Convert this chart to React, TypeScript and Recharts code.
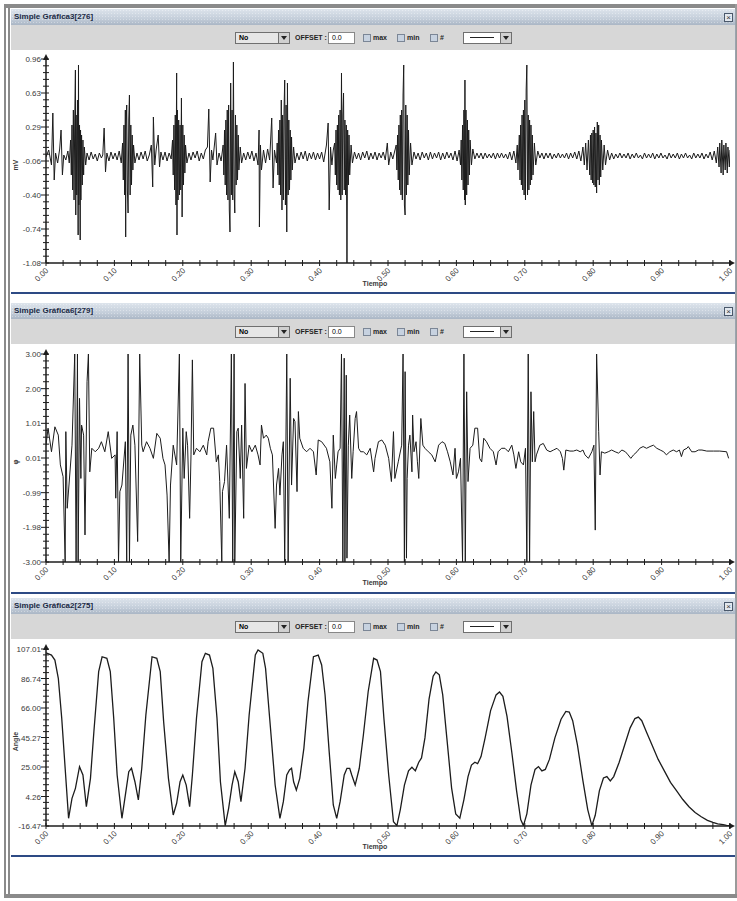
import React from "react";
import { LineChart, Line, XAxis, YAxis } from "recharts";

type Pt = [number, number];

// axis labels
const timeLabels = ["0.00", "0.10", "0.20", "0.30", "0.40", "0.50", "0.60", "0.70", "0.80", "0.90", "1.00"];
const mvLabels = ["-1.08", "-0.74", "-0.40", "-0.06", "0.29", "0.63", "0.96"];
const phiLabels = ["-3.00", "-1.98", "-0.99", "0.01", "1.01", "2.00", "3.00"];
const angleLabels = ["-16.47", "4.26", "25.00", "45.27", "66.00", "86.74", "107.01"];

const mvRange: Pt = [-1.08, 0.96];
const phiRange: Pt = [-3, 3];
const angleRange: Pt = [-16.47, 107.01];

// [tiempo, mV]
const emgSignal: Pt[] = [
  [0.000, -0.02], [0.004, 0.05], [0.008, -0.10], [0.010, 0.42], [0.012, -0.25], [0.014, 0.02], [0.017, -0.08], [0.020, 0.06],
  [0.022, 0.25], [0.024, -0.20], [0.026, 0.00], [0.029, -0.05], [0.032, 0.04], [0.034, -0.08],
  [0.036, 0.15], [0.037, -0.20], [0.038, 0.30], [0.039, -0.35], [0.040, 0.45], [0.041, -0.45], [0.042, 0.35], [0.043, 0.85],
  [0.0435, -0.60], [0.044, 0.40], [0.045, -0.40], [0.046, 0.55], [0.047, -0.80], [0.0475, 0.90], [0.048, -0.50], [0.049, 0.30],
  [0.050, -0.85], [0.0505, 0.25], [0.051, -0.45], [0.052, 0.20], [0.053, -0.30], [0.054, 0.15], [0.055, -0.20], [0.056, 0.08],
  [0.058, -0.10], [0.060, 0.02],
  [0.063, -0.05], [0.066, 0.03], [0.069, -0.04], [0.072, 0.01], [0.075, -0.06], [0.078, 0.02], [0.081, -0.03], [0.083, 0.00],
  [0.085, 0.27], [0.087, -0.17], [0.089, 0.02], [0.092, -0.06], [0.095, 0.03], [0.098, -0.04], [0.101, 0.02], [0.104, -0.05],
  [0.107, 0.04], [0.110, -0.08],
  [0.112, 0.12], [0.113, -0.25], [0.114, 0.30], [0.115, -0.40], [0.116, 0.45], [0.1165, -0.82], [0.117, 0.25], [0.118, 0.50],
  [0.119, -0.35], [0.120, -0.58], [0.121, 0.35], [0.122, 0.60], [0.123, -0.40], [0.124, 0.30], [0.125, -0.30], [0.126, 0.20],
  [0.127, -0.15], [0.128, 0.10], [0.130, -0.08], [0.133, 0.02],
  [0.136, -0.05], [0.139, 0.03], [0.142, -0.04], [0.145, 0.04], [0.148, -0.06], [0.151, 0.00], [0.154, 0.10], [0.156, -0.32],
  [0.157, 0.38], [0.159, -0.10], [0.161, 0.05], [0.164, 0.20], [0.166, -0.12], [0.168, 0.03], [0.171, -0.05], [0.174, 0.03],
  [0.177, -0.06], [0.180, 0.02], [0.183, -0.04],
  [0.185, 0.15], [0.186, -0.20], [0.187, 0.30], [0.188, -0.35], [0.189, 0.40], [0.190, -0.50], [0.191, 0.82], [0.1915, -0.80],
  [0.192, 0.45], [0.193, -0.45], [0.194, 0.35], [0.195, -0.40], [0.196, 0.30], [0.197, -0.35], [0.198, 0.57], [0.199, -0.62],
  [0.200, 0.30], [0.201, -0.30], [0.202, 0.20], [0.203, -0.18], [0.204, 0.10], [0.206, -0.08], [0.209, 0.02],
  [0.212, -0.05], [0.215, 0.03], [0.218, -0.03], [0.221, 0.04], [0.224, -0.06], [0.227, 0.02], [0.230, -0.04], [0.233, 0.05],
  [0.236, 0.08], [0.238, 0.46], [0.240, -0.27], [0.242, 0.05], [0.244, -0.05], [0.248, 0.22], [0.250, -0.10], [0.253, 0.02],
  [0.256, -0.06],
  [0.259, 0.10], [0.260, -0.20], [0.261, 0.25], [0.262, -0.30], [0.263, 0.35], [0.264, -0.40], [0.265, 0.45], [0.266, -0.45],
  [0.267, 0.50], [0.268, -0.55], [0.269, -0.77], [0.270, 0.72], [0.271, -0.40], [0.272, 0.45], [0.273, -0.45], [0.274, 0.93],
  [0.275, -0.35], [0.276, -0.58], [0.277, 0.40], [0.278, -0.30], [0.279, 0.30], [0.280, -0.25], [0.281, 0.20], [0.282, -0.15],
  [0.284, 0.08], [0.286, -0.08], [0.289, 0.02],
  [0.292, -0.05], [0.295, 0.03], [0.298, -0.04], [0.301, 0.04], [0.304, -0.06], [0.307, 0.02], [0.310, -0.10], [0.3115, 0.25],
  [0.312, -0.72], [0.3135, 0.10], [0.315, -0.15], [0.318, 0.05], [0.321, -0.08], [0.324, 0.06], [0.327, -0.05], [0.330, 0.37],
  [0.332, -0.33], [0.334, 0.05], [0.337, -0.08],
  [0.338, 0.12], [0.339, -0.20], [0.340, 0.25], [0.341, -0.30], [0.342, 0.35], [0.343, -0.40], [0.344, 0.55], [0.345, -0.55],
  [0.346, 0.40], [0.347, -0.45], [0.348, 0.45], [0.349, 0.75], [0.350, -0.50], [0.351, 0.50], [0.352, -0.77], [0.353, 0.72],
  [0.354, -0.40], [0.355, 0.35], [0.356, -0.35], [0.357, 0.25], [0.358, -0.25], [0.359, 0.18], [0.360, -0.15], [0.362, 0.08],
  [0.364, -0.08], [0.367, 0.02],
  [0.370, -0.05], [0.373, 0.03], [0.376, -0.04], [0.379, 0.04], [0.382, -0.06], [0.385, 0.02], [0.388, -0.04], [0.391, 0.03],
  [0.394, -0.05], [0.397, 0.02], [0.400, -0.04], [0.403, 0.03], [0.406, -0.07], [0.410, 0.10], [0.4125, 0.32], [0.414, -0.55],
  [0.416, 0.08], [0.418, -0.10], [0.420, 0.05],
  [0.422, 0.12], [0.423, -0.20], [0.424, 0.25], [0.425, -0.30], [0.426, 0.30], [0.427, -0.35], [0.428, 0.40], [0.429, -0.40],
  [0.430, 0.45], [0.431, -0.45], [0.432, 0.82], [0.433, -0.40], [0.434, 0.40], [0.435, 0.62], [0.436, -0.35], [0.437, 0.35],
  [0.438, -0.40], [0.439, 0.30], [0.440, -1.08], [0.441, 0.25], [0.442, -0.30], [0.443, 0.20], [0.444, -0.20], [0.446, 0.10],
  [0.448, -0.08], [0.451, 0.03],
  [0.454, -0.04], [0.457, 0.02], [0.460, -0.05], [0.463, 0.03], [0.466, -0.03], [0.469, 0.04], [0.472, -0.05], [0.475, 0.02],
  [0.478, -0.04], [0.481, 0.03], [0.484, -0.05], [0.487, 0.02], [0.490, -0.03], [0.493, 0.03], [0.496, -0.05], [0.499, 0.12],
  [0.501, -0.10], [0.504, 0.03], [0.507, -0.04],
  [0.512, 0.10], [0.513, -0.15], [0.514, 0.20], [0.515, -0.25], [0.516, 0.30], [0.517, -0.35], [0.518, 0.40], [0.519, -0.40],
  [0.520, 0.45], [0.521, -0.45], [0.522, 0.60], [0.523, 0.90], [0.524, -0.50], [0.525, -0.60], [0.526, 0.50], [0.527, -0.40],
  [0.528, 0.40], [0.529, -0.30], [0.530, 0.25], [0.531, -0.20], [0.533, 0.12], [0.535, -0.10], [0.538, 0.03],
  [0.541, -0.04], [0.544, 0.02], [0.547, -0.05], [0.550, 0.03], [0.553, -0.03], [0.556, 0.02], [0.559, -0.05], [0.562, 0.03],
  [0.565, -0.04], [0.568, 0.02], [0.571, -0.03], [0.574, 0.03], [0.577, -0.05], [0.580, 0.02], [0.583, -0.04], [0.586, 0.03],
  [0.589, -0.03], [0.592, 0.02], [0.595, -0.05], [0.598, 0.04], [0.601, -0.06], [0.604, 0.05],
  [0.606, -0.10], [0.607, 0.15], [0.608, -0.25], [0.609, 0.30], [0.610, -0.35], [0.611, 0.45], [0.612, -0.45], [0.6125, 0.75],
  [0.613, -0.50], [0.614, 0.45], [0.615, -0.40], [0.616, 0.35], [0.617, -0.30], [0.618, 0.25], [0.619, -0.20], [0.620, 0.15],
  [0.622, -0.10], [0.624, 0.06], [0.627, -0.04],
  [0.630, 0.02], [0.633, -0.03], [0.636, 0.02], [0.639, -0.04], [0.642, 0.02], [0.645, -0.03], [0.648, 0.01], [0.651, -0.03],
  [0.654, 0.02], [0.657, -0.04], [0.660, 0.02], [0.663, -0.03], [0.666, 0.02], [0.669, -0.03], [0.672, 0.01], [0.675, -0.04],
  [0.678, 0.03], [0.681, -0.05], [0.684, 0.04],
  [0.687, -0.08], [0.689, 0.10], [0.690, -0.15], [0.692, 0.20], [0.693, -0.25], [0.694, 0.30], [0.695, -0.30], [0.696, 0.40],
  [0.697, -0.35], [0.698, 0.45], [0.699, -0.40], [0.700, 0.55], [0.701, -0.45], [0.702, 0.65], [0.703, 0.90], [0.704, -0.40],
  [0.705, 0.40], [0.706, -0.35], [0.707, 0.35], [0.708, -0.30], [0.709, 0.30], [0.710, -0.25], [0.711, 0.20], [0.712, -0.20],
  [0.714, 0.12], [0.716, -0.10], [0.719, 0.04],
  [0.722, -0.03], [0.725, 0.02], [0.728, -0.04], [0.731, 0.02], [0.734, -0.03], [0.737, 0.02], [0.740, -0.04], [0.743, 0.01],
  [0.746, -0.03], [0.749, 0.02], [0.752, -0.03], [0.755, 0.01], [0.758, -0.03], [0.761, 0.02], [0.764, -0.04], [0.767, 0.02],
  [0.770, -0.03], [0.773, 0.03], [0.776, -0.04], [0.779, 0.04],
  [0.782, -0.06], [0.785, 0.08], [0.787, -0.10], [0.789, 0.12], [0.791, -0.15], [0.793, 0.15], [0.795, -0.20], [0.796, 0.20],
  [0.797, -0.25], [0.798, 0.22], [0.799, -0.28], [0.800, 0.25], [0.801, -0.30], [0.802, 0.28], [0.803, -0.32], [0.804, 0.22],
  [0.805, -0.38], [0.806, 0.33], [0.807, -0.25], [0.808, 0.30], [0.809, -0.30], [0.810, 0.20], [0.811, -0.22], [0.812, 0.15],
  [0.814, -0.15], [0.816, 0.10], [0.818, -0.10], [0.821, 0.05], [0.824, -0.05],
  [0.827, 0.02], [0.830, -0.04], [0.833, 0.01], [0.836, -0.03], [0.839, 0.02], [0.842, -0.03], [0.845, 0.01], [0.848, -0.03],
  [0.851, 0.02], [0.854, -0.04], [0.857, 0.01], [0.860, -0.03], [0.863, 0.02], [0.866, -0.03], [0.869, 0.00], [0.872, -0.04],
  [0.875, 0.02], [0.878, -0.03], [0.881, 0.01], [0.884, -0.03], [0.887, 0.02], [0.890, -0.04], [0.893, 0.01], [0.896, -0.03],
  [0.899, 0.02], [0.902, -0.03], [0.905, 0.00], [0.908, -0.04], [0.911, 0.02], [0.914, -0.03], [0.917, 0.01], [0.920, -0.03],
  [0.923, 0.02], [0.926, -0.04], [0.929, 0.01], [0.932, -0.03], [0.935, 0.02], [0.938, -0.03], [0.941, 0.00], [0.944, -0.04],
  [0.947, 0.02], [0.950, -0.03], [0.953, 0.01], [0.956, -0.03], [0.959, 0.02], [0.962, -0.04], [0.965, 0.01], [0.968, -0.03],
  [0.971, 0.03], [0.974, -0.05], [0.977, 0.04],
  [0.980, -0.08], [0.982, 0.08], [0.984, -0.12], [0.985, 0.12], [0.987, -0.18], [0.988, 0.15], [0.990, -0.20], [0.991, 0.10],
  [0.993, -0.15], [0.994, 0.12], [0.996, -0.18], [0.997, 0.08], [0.999, -0.12], [1.000, 0.05],
];

// [tiempo, fase]
const phaseSignal: Pt[] = [
  [0.000, 0.37], [0.003, 0.86], [0.008, 0.18], [0.013, 0.90], [0.018, 0.66], [0.021, -0.20], [0.025, -0.54], [0.028, -3.0],
  [0.029, 0.76], [0.031, -1.45], [0.038, 0.37], [0.042, 3.0], [0.044, -3.0], [0.046, 3.0], [0.047, -3.0], [0.049, 1.72],
  [0.051, -0.59], [0.052, 0.95], [0.055, 0.66], [0.057, -2.22], [0.060, 2.20], [0.062, 3.0], [0.064, -0.40], [0.067, 0.28],
  [0.072, 0.18], [0.077, 0.28], [0.081, 0.47], [0.086, 0.18], [0.091, 0.76], [0.096, -0.01], [0.101, 0.09], [0.102, -1.16],
  [0.104, 0.76], [0.106, -3.0], [0.108, -0.97], [0.111, -0.78], [0.116, 0.47], [0.118, -3.0], [0.120, 3.0], [0.122, -3.0],
  [0.124, 0.66], [0.127, 0.95], [0.130, 0.37], [0.134, -2.41], [0.137, 3.0], [0.140, 0.37], [0.142, 0.18], [0.147, 0.47],
  [0.152, 0.28], [0.157, -0.01], [0.162, 0.71], [0.167, 0.57], [0.171, -0.01], [0.174, -0.20], [0.177, -1.07], [0.180, -3.0],
  [0.182, -0.78], [0.186, 0.37], [0.191, -0.20], [0.195, 3.0], [0.197, -3.0], [0.200, 0.86], [0.202, -0.59], [0.205, 0.76],
  [0.207, 0.37], [0.210, -1.74], [0.212, 0.09], [0.214, 2.83], [0.216, 0.09], [0.220, 0.28], [0.225, 0.18], [0.230, 0.37],
  [0.235, 0.09], [0.237, 0.47], [0.241, 0.86], [0.245, 0.86], [0.249, -0.11], [0.252, 0.09], [0.254, -0.68], [0.257, -3.0],
  [0.258, -0.97], [0.261, -0.68], [0.264, 0.37], [0.268, -1.74], [0.271, 3.0], [0.273, -3.0], [0.275, 3.0], [0.276, -3.0],
  [0.279, 0.76], [0.281, 0.86], [0.284, -0.59], [0.286, 0.95], [0.289, -1.74], [0.291, 2.15], [0.293, -0.30], [0.297, 0.37],
  [0.301, 0.18], [0.306, 0.37], [0.310, 0.09], [0.313, -0.20], [0.315, 0.95], [0.318, 0.57], [0.322, 0.66], [0.325, 0.57],
  [0.328, 0.28], [0.331, 0.09], [0.335, -2.03], [0.337, -0.78], [0.340, -0.30], [0.342, -1.07], [0.345, 0.09], [0.347, 0.47],
  [0.349, -3.0], [0.352, 3.0], [0.354, -3.0], [0.357, 2.30], [0.359, -0.78], [0.362, 1.14], [0.364, 1.05], [0.367, -0.97],
  [0.369, 1.34], [0.371, 0.57], [0.376, 0.28], [0.381, 0.18], [0.386, 0.28], [0.391, 0.18], [0.395, -0.49], [0.398, 0.52],
  [0.403, 0.47], [0.410, 0.28], [0.415, -0.11], [0.418, -1.45], [0.420, 0.66], [0.423, -0.59], [0.425, -0.20], [0.427, 0.18],
  [0.430, 0.28], [0.432, 3.0], [0.434, -3.0], [0.436, 2.88], [0.437, -3.0], [0.439, 2.39], [0.440, -2.89], [0.442, 0.37],
  [0.444, 1.24], [0.447, -0.59], [0.449, 0.18], [0.452, 1.14], [0.454, 1.34], [0.457, 0.28], [0.460, 0.18], [0.464, 0.18],
  [0.469, 0.09], [0.474, 0.28], [0.479, -0.40], [0.481, -0.01], [0.486, 0.47], [0.491, 0.52], [0.496, 0.37], [0.501, -0.01],
  [0.505, -0.68], [0.508, 0.76], [0.510, -0.59], [0.515, -0.11], [0.520, 0.37], [0.522, 3.0], [0.524, -3.0], [0.525, 2.49],
  [0.527, -2.89], [0.528, -0.59], [0.530, 0.37], [0.532, 0.66], [0.535, -0.40], [0.536, 1.24], [0.538, 0.18], [0.541, 0.47],
  [0.543, -0.11], [0.545, -0.59], [0.548, 1.14], [0.551, 0.37], [0.554, 0.28], [0.559, 0.18], [0.564, 0.09], [0.569, -0.11],
  [0.574, 0.37], [0.579, 0.47], [0.583, 0.42], [0.587, 0.18], [0.591, -0.11], [0.595, -0.49], [0.598, 0.28], [0.600, -0.59],
  [0.603, -0.40], [0.606, -0.01], [0.609, -3.0], [0.611, 3.0], [0.613, -3.0], [0.615, 1.91], [0.617, -0.68], [0.620, 0.28],
  [0.624, 0.37], [0.627, 0.86], [0.631, 0.86], [0.634, -0.01], [0.637, -0.11], [0.640, 0.57], [0.644, 0.47], [0.649, 0.28],
  [0.654, 0.18], [0.658, -0.20], [0.661, 0.18], [0.666, 0.28], [0.671, 0.28], [0.676, 0.18], [0.681, 0.37], [0.684, 0.09],
  [0.687, -0.30], [0.691, 0.18], [0.694, -0.11], [0.698, -0.20], [0.701, 0.28], [0.703, -3.0], [0.705, 3.0], [0.707, -3.0],
  [0.709, 1.91], [0.711, -0.11], [0.713, 1.34], [0.715, -0.11], [0.717, 0.09], [0.722, 0.37], [0.727, 0.42], [0.732, 0.23],
  [0.737, 0.18], [0.742, 0.23], [0.747, 0.28], [0.752, 0.18], [0.755, -0.01], [0.757, -0.35], [0.760, 0.23], [0.766, 0.20],
  [0.771, 0.20], [0.776, 0.23], [0.781, 0.18], [0.785, 0.23], [0.788, 0.09], [0.793, -0.01], [0.798, 0.18], [0.801, 0.37],
  [0.803, -2.08], [0.805, 3.0], [0.808, 0.76], [0.810, -0.49], [0.812, 0.18], [0.817, 0.14], [0.822, 0.18], [0.827, 0.23],
  [0.832, 0.18], [0.837, 0.14], [0.842, 0.23], [0.847, 0.18], [0.851, 0.09], [0.855, -0.01], [0.859, 0.09], [0.864, 0.18],
  [0.868, 0.28], [0.873, 0.33], [0.878, 0.28], [0.883, 0.33], [0.888, 0.37], [0.893, 0.28], [0.898, 0.23], [0.903, 0.18],
  [0.907, 0.09], [0.912, 0.18], [0.917, 0.23], [0.922, 0.18], [0.926, 0.23], [0.929, 0.04], [0.932, 0.23], [0.937, 0.28],
  [0.939, 0.33], [0.944, 0.18], [0.949, 0.18], [0.954, 0.23], [0.959, 0.23], [0.966, 0.20], [0.976, 0.20], [0.985, 0.20],
  [0.995, 0.18], [0.998, -0.01],
];

// [tiempo, ángulo]
const angleSignal: Pt[] = [
  [0.000, 104.4], [0.008, 102.8], [0.013, 99.3], [0.018, 86.6], [0.023, 58.7], [0.028, 23.8], [0.033, -11.1], [0.038, 2.8],
  [0.043, 9.8], [0.049, 24.9], [0.054, 19.1], [0.059, -3.0], [0.065, 16.8], [0.070, 49.3], [0.077, 91.2], [0.082, 101.6],
  [0.089, 100.5], [0.094, 91.2], [0.099, 58.7], [0.104, 19.1], [0.111, -11.1], [0.116, 5.1], [0.121, 21.4], [0.125, 23.8],
  [0.130, 14.4], [0.135, 1.7], [0.140, 23.8], [0.146, 61.0], [0.155, 101.6], [0.162, 100.5], [0.167, 91.2], [0.172, 56.3],
  [0.179, 16.8], [0.186, -8.8], [0.191, -0.6], [0.196, 14.4], [0.200, 19.1], [0.205, 12.1], [0.210, -3.0], [0.214, 19.1],
  [0.220, 58.7], [0.228, 98.2], [0.233, 104.0], [0.239, 102.8], [0.244, 93.5], [0.250, 58.7], [0.255, 14.4], [0.262, -16.2],
  [0.267, -4.1], [0.272, 12.1], [0.276, 21.4], [0.281, 14.4], [0.285, 0.5], [0.291, 23.8], [0.297, 61.0], [0.306, 102.8],
  [0.310, 106.3], [0.317, 104.0], [0.321, 93.5], [0.327, 58.7], [0.335, 12.1], [0.342, -11.1], [0.347, 0.5], [0.352, 19.1],
  [0.356, 22.6], [0.359, 23.8], [0.362, 14.4], [0.366, 8.6], [0.371, 16.8], [0.377, 37.7], [0.383, 70.2], [0.391, 101.6],
  [0.398, 102.8], [0.403, 95.9], [0.408, 74.9], [0.414, 35.4], [0.420, -1.8], [0.425, -11.1], [0.430, 0.5], [0.436, 19.1],
  [0.440, 23.8], [0.444, 23.8], [0.447, 19.1], [0.452, 12.1], [0.458, 23.8], [0.464, 47.0], [0.471, 77.2], [0.479, 100.5],
  [0.484, 99.3], [0.489, 91.2], [0.494, 58.7], [0.501, 19.1], [0.508, -13.5], [0.513, -16.2], [0.518, -5.0], [0.524, 12.0],
  [0.530, 22.0], [0.535, 24.5], [0.540, 22.0], [0.545, 28.0], [0.549, 31.0], [0.554, 45.0], [0.560, 72.0], [0.566, 88.0],
  [0.570, 91.0], [0.575, 89.0], [0.580, 75.0], [0.586, 45.0], [0.593, 10.0], [0.599, -8.0], [0.605, -11.0], [0.611, 2.0],
  [0.617, 18.0], [0.622, 26.0], [0.627, 28.0], [0.631, 27.0], [0.636, 32.0], [0.642, 45.0], [0.650, 64.0], [0.658, 75.0],
  [0.663, 77.0], [0.668, 74.0], [0.674, 60.0], [0.681, 35.0], [0.688, 8.0], [0.694, -12.0], [0.698, -16.2], [0.703, -8.0],
  [0.709, 12.0], [0.715, 23.0], [0.720, 25.0], [0.725, 22.0], [0.730, 23.0], [0.736, 30.0], [0.744, 45.0], [0.753, 58.0],
  [0.760, 63.5], [0.765, 63.0], [0.770, 57.0], [0.777, 40.0], [0.785, 15.0], [0.792, -5.0], [0.798, -16.2], [0.803, -9.0],
  [0.809, 8.0], [0.815, 17.0], [0.820, 18.0], [0.825, 15.0], [0.830, 18.0], [0.838, 28.0], [0.846, 40.0], [0.854, 52.0],
  [0.861, 58.5], [0.866, 59.5], [0.871, 57.0], [0.878, 49.0], [0.886, 40.0], [0.895, 30.0], [0.904, 22.0], [0.913, 14.0],
  [0.922, 8.0], [0.931, 2.0], [0.940, -3.0], [0.949, -7.0], [0.958, -10.0], [0.967, -12.5], [0.975, -14.0], [0.982, -15.0],
  [0.990, -15.5], [0.995, -16.0], [1.000, -16.3],
];

const FONT = '"Liberation Sans", Arial, sans-serif';
const INK = "#1c1c1c";
const LABEL = "#3a3a3a";

const X_STEPS = 40; // minor tick every 0.025
const Y_STEPS = 30; // five minor steps between labelled values
const timeTicks = Array.from({ length: X_STEPS + 1 }, (_, i) => i / X_STEPS);

function valueTicks([lo, hi]: Pt) {
  return Array.from({ length: Y_STEPS + 1 }, (_, i) => (i === Y_STEPS ? hi : lo + ((hi - lo) * i) / Y_STEPS));
}

function TimeTick(props: any) {
  const { x, y, payload } = props;
  const step = Math.round(payload.value * X_STEPS);
  const major = step % 4 === 0;
  return (
    <g>
      <line x1={x} y1={y - 3} x2={x} y2={y + 3} stroke={INK} strokeWidth={1} />
      {major && (
        <text
          x={x + 3}
          y={y + 8}
          transform={`rotate(-45 ${x + 3} ${y + 8})`}
          textAnchor="end"
          fontSize={8}
          fill={LABEL}
          fontFamily={FONT}
        >
          {timeLabels[step / 4]}
        </text>
      )}
      {step === X_STEPS && <path d={`M${x + 5},${y} L${x - 1},${y - 3} L${x - 1},${y + 3} Z`} fill={INK} />}
    </g>
  );
}

const makeValueTick = (range: Pt, labels: string[]) => (props: any) => {
  const { x, y, payload } = props;
  const step = Math.round(((payload.value - range[0]) / (range[1] - range[0])) * Y_STEPS);
  const major = step % 5 === 0;
  return (
    <g>
      <line x1={x - (major ? 5 : 3)} y1={y} x2={x + 3} y2={y} stroke={INK} strokeWidth={1} />
      {major && (
        <text x={x - 5} y={y + 3} textAnchor="end" fontSize={8} fill={LABEL} fontFamily={FONT}>
          {labels[step / 5]}
        </text>
      )}
      {step === Y_STEPS && <path d={`M${x},${y - 5} L${x - 3},${y + 1} L${x + 3},${y + 1} Z`} fill={INK} />}
    </g>
  );
};

const tiempoLabel = (props: any) => {
  const vb = props.viewBox;
  return (
    <text x={vb.x + vb.width / 2 - 13} y={vb.y + 23} textAnchor="middle" fontSize={7} fontWeight="bold" fill={LABEL} fontFamily={FONT}>
      Tiempo
    </text>
  );
};

const unitLabel = (unit: string) => (props: any) => {
  const vb = props.viewBox;
  const cx = vb.x + 7;
  const cy = vb.y + vb.height / 2 + 4;
  return (
    <text x={cx} y={cy} transform={`rotate(-90 ${cx} ${cy})`} textAnchor="middle" fontSize={7} fontWeight="bold" fill={LABEL} fontFamily={FONT}>
      {unit}
    </text>
  );
};

interface PlotProps {
  points: Pt[];
  range: Pt;
  labels: string[];
  unit: string;
  height: number;
  marginTop: number;
  axisHeight: number;
  strokeWidth: number;
}

function SignalPlot({ points, range, labels, unit, height, marginTop, axisHeight, strokeWidth }: PlotProps) {
  const rows = points.map(([t, v]) => ({ t, v }));
  return (
    <LineChart width={724} height={height} data={rows} margin={{ top: marginTop, right: 5, bottom: 0, left: 0 }}>
      <XAxis
        dataKey="t"
        type="number"
        domain={[0, 1]}
        ticks={timeTicks}
        interval={0}
        allowDataOverflow
        height={axisHeight}
        tickSize={0}
        tickMargin={0}
        tickLine={false}
        tick={TimeTick}
        axisLine={{ stroke: INK, strokeWidth: 1.5 }}
        label={{ content: tiempoLabel }}
      />
      <YAxis
        type="number"
        domain={range}
        ticks={valueTicks(range)}
        interval={0}
        allowDataOverflow
        width={35}
        tickSize={0}
        tickMargin={0}
        tickLine={false}
        tick={makeValueTick(range, labels)}
        axisLine={{ stroke: INK, strokeWidth: 1.5 }}
        label={{ content: unitLabel(unit) }}
      />
      <Line type="linear" dataKey="v" stroke={INK} strokeWidth={strokeWidth} dot={false} isAnimationActive={false} />
    </LineChart>
  );
}

const ctlText: React.CSSProperties = { position: "absolute", top: 8, fontSize: 7, fontWeight: "bold", color: "#1f1f1f", lineHeight: "10px" };
const box: React.CSSProperties = { position: "absolute", boxSizing: "border-box", border: "1px solid #6f6f6f" };

// small combo-box button with a down triangle
function DropButton({ left }: { left: number }) {
  return (
    <div style={{ ...box, left, top: 7, width: 12, height: 12, background: "#d0d0d0" }}>
      <div
        style={{
          position: "absolute",
          left: 2,
          top: 3,
          width: 0,
          height: 0,
          borderLeft: "3px solid transparent",
          borderRight: "3px solid transparent",
          borderTop: "4px solid #222",
        }}
      />
    </div>
  );
}

function Check({ left, text }: { left: number; text: string }) {
  return (
    <>
      <div style={{ ...box, left, top: 9, width: 8, height: 8, background: "#c7d2e0", borderColor: "#7b8696" }} />
      <div style={{ ...ctlText, left: left + 10 }}>{text}</div>
    </>
  );
}

function Toolbar() {
  return (
    <div style={{ position: "relative", height: 25, background: "#d7d7d7" }}>
      <div style={{ ...box, left: 224, top: 7, width: 44, height: 12, background: "#e6e6e6" }}>
        <span style={{ position: "absolute", left: 3, top: 0, fontSize: 7, fontWeight: "bold", lineHeight: "10px" }}>No</span>
      </div>
      <DropButton left={267} />
      <div style={{ ...ctlText, left: 284 }}>OFFSET :</div>
      <div style={{ ...box, left: 317, top: 7, width: 27, height: 12, background: "#fff", borderColor: "#888" }}>
        <span style={{ position: "absolute", left: 3, top: 0, fontSize: 7, lineHeight: "10px" }}>0.0</span>
      </div>
      <Check left={352} text="max" />
      <Check left={386} text="min" />
      <Check left={419} text="#" />
      <div style={{ ...box, left: 452, top: 7, width: 38, height: 12, background: "#fff" }}>
        <div style={{ position: "absolute", left: 6, top: 4, width: 24, height: 1, background: "#222" }} />
      </div>
      <DropButton left={489} />
    </div>
  );
}

function GraphWindow({ title, top, children }: { title: string; top: number; children: React.ReactNode }) {
  return (
    <div style={{ position: "absolute", left: 11, top, width: 724, borderRight: "1px solid #9aa4b0" }}>
      <div
        style={{
          position: "relative",
          height: 16,
          backgroundImage:
            "radial-gradient(rgba(255,255,255,0.35) 0.6px, transparent 0.9px), linear-gradient(#dde4ec, #c4ceda 60%, #aab6c5)",
          backgroundSize: "3px 3px, 100% 100%",
        }}
      >
        <span style={{ position: "absolute", left: 3, top: 3, fontSize: 8, fontWeight: "bold", color: "#1b2a45", lineHeight: "10px" }}>
          {title}
        </span>
        <div
          style={{
            ...box,
            left: 713,
            top: 4,
            width: 9,
            height: 9,
            background: "#e2e8ef",
            borderColor: "#4a586b",
            fontSize: 8,
            lineHeight: "7px",
            textAlign: "center",
            color: "#333",
          }}
        >
          ×
        </div>
      </div>
      <Toolbar />
      <div style={{ background: "#fff" }}>{children}</div>
      <div style={{ height: 2, background: "#2d4a84" }} />
    </div>
  );
}

export default function App() {
  return (
    <div
      style={{
        position: "absolute",
        left: 0,
        top: 0,
        width: 737,
        height: 901,
        background: "#fff",
        overflow: "hidden",
        fontFamily: FONT,
      }}
    >
      {/* outer frame */}
      <div style={{ position: "absolute", left: 4, top: 4, width: 733, height: 4, background: "#8a8a8a" }} />
      <div style={{ position: "absolute", left: 4, top: 4, width: 2, height: 894, background: "#8a8a8a" }} />
      <div style={{ position: "absolute", left: 8, top: 4, width: 2, height: 894, background: "#8a8a8a" }} />
      <div style={{ position: "absolute", left: 735, top: 4, width: 2, height: 894, background: "#9a9a9a" }} />
      <div style={{ position: "absolute", left: 4, top: 894, width: 733, height: 4, background: "#8a8a8a" }} />

      <GraphWindow title="Simple Gráfica3[276]" top={9}>
        <SignalPlot points={emgSignal} range={mvRange} labels={mvLabels} unit="mV" height={242} marginTop={9} axisHeight={29} strokeWidth={1} />
      </GraphWindow>
      <GraphWindow title="Simple Gráfica6[279]" top={303}>
        <SignalPlot points={phaseSignal} range={phiRange} labels={phiLabels} unit="φ" height={248} marginTop={10} axisHeight={30} strokeWidth={1} />
      </GraphWindow>
      <GraphWindow title="Simple Gráfica2[275]" top={598}>
        <SignalPlot points={angleSignal} range={angleRange} labels={angleLabels} unit="Angle" height={216} marginTop={10} axisHeight={29} strokeWidth={1.3} />
      </GraphWindow>
    </div>
  );
}
